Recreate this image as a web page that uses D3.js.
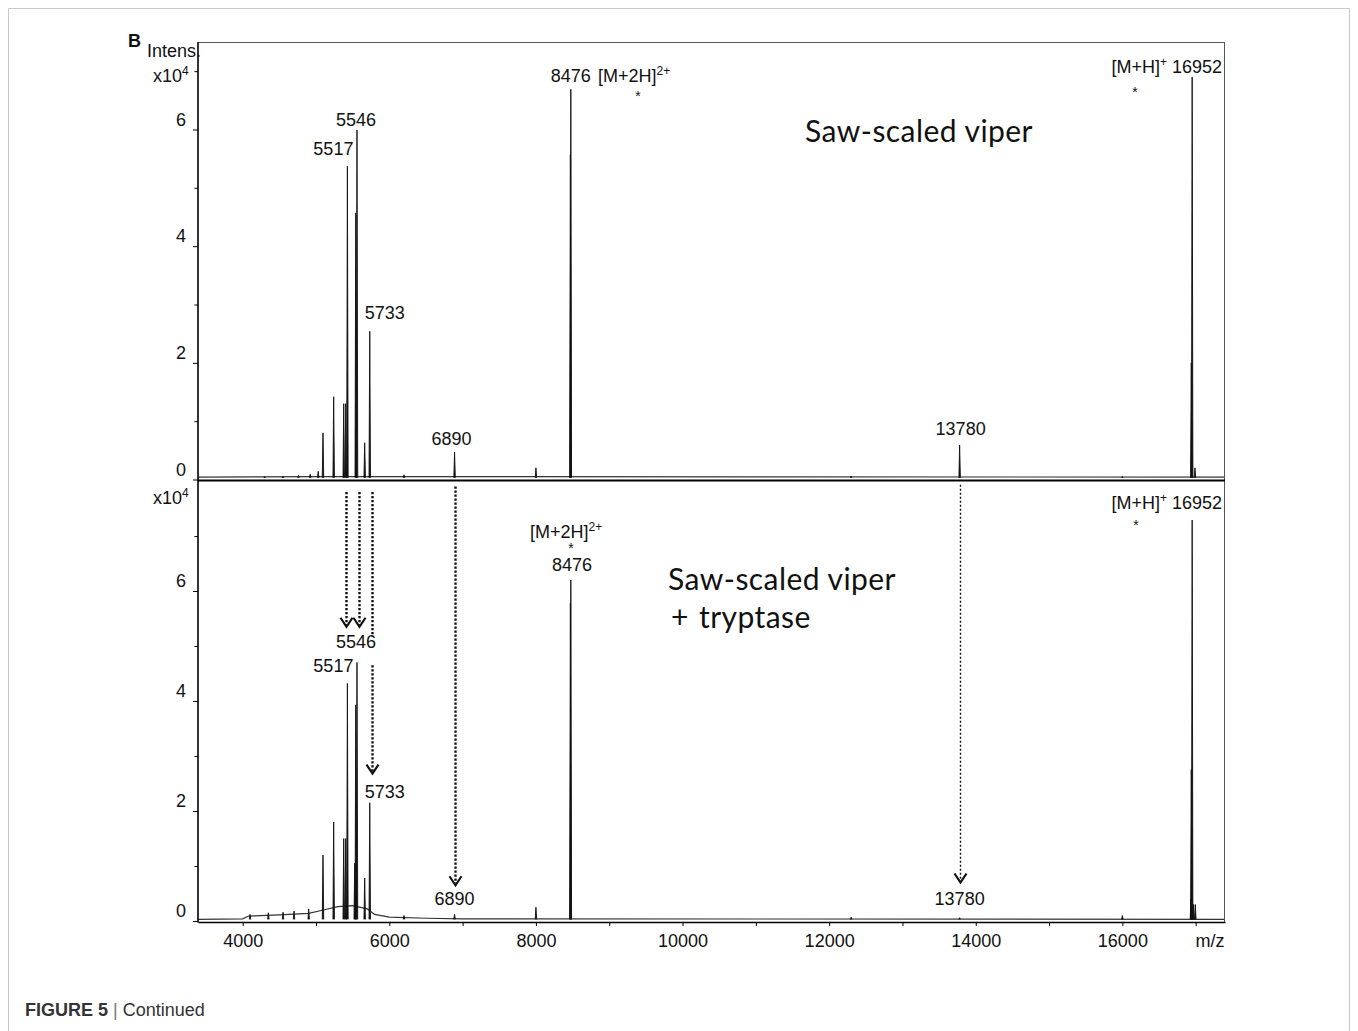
<!DOCTYPE html>
<html>
<head>
<meta charset="utf-8">
<script src="https://cdn.jsdelivr.net/npm/d3@7"></script>
<style>
body { margin: 0; background: #fff; }
text { font-family: "Liberation Sans", Arial, sans-serif; fill: #111; }
.viper { font-family: Lato, "Open Sans", sans-serif; font-size: 30px; letter-spacing: 0.45px; }
</style>
</head>
<body>
<svg width="1358" height="1031"></svg>
<script>
// axis ticks
let xTicks = [4000, 6000, 8000, 10000, 12000, 14000, 16000];
let xMinorTicks = [5000, 7000, 9000, 11000, 13000, 15000, 17000];
let yTicks = [0, 2, 4, 6];
let yMinorTicks = [1, 3, 5, 7];

// peaks: [m/z, intensity x10^4]
let viperPeaks = [
    [4300, 0.05], [4550, 0.06], [4760, 0.07], [4920, 0.09], [5030, 0.14],
    [5095, 0.80], [5241, 1.42], [5378, 1.30], [5405, 1.30], [5428, 5.37],
    [5542, 4.57], [5559, 5.99], [5664, 0.63], [5733, 2.54], [6200, 0.08],
    [6890, 0.47], [8000, 0.20], [8470, 5.57], [8476, 6.69], [12300, 0.06],
    [13780, 0.59], [16000, 0.05], [16940, 2.0], [16952, 6.90], [16990, 0.20]
];
let viperBase = [[3390, 0.04], [5000, 0.05], [5800, 0.05], [17400, 0.04]];

let trypPeaks = [
    [4100, 0.12], [4350, 0.15], [4550, 0.16], [4700, 0.18], [4900, 0.22],
    [5095, 1.20], [5241, 1.80], [5378, 1.50], [5405, 1.50], [5428, 4.32],
    [5528, 1.05], [5542, 3.93], [5559, 4.70], [5664, 0.78], [5733, 2.15],
    [6200, 0.10], [6890, 0.12], [8000, 0.25], [8470, 5.78], [8476, 6.20],
    [12300, 0.07], [13780, 0.06], [16000, 0.10], [16935, 0.40], [16940, 2.75],
    [16952, 7.29], [16970, 0.30], [16995, 0.30]
];
let trypBase = [
    [3390, 0.03], [4000, 0.04], [4080, 0.09], [4500, 0.11], [4900, 0.14],
    [5100, 0.20], [5300, 0.26], [5500, 0.28], [5700, 0.22], [5800, 0.12],
    [6000, 0.07], [6500, 0.05], [7000, 0.04], [17400, 0.03]
];

// dotted arrows in the lower panel: m/z and intensity range
let arrows = [
    {mz: 5415, from: 7.8, to: 5.35, head: true},
    {mz: 5582, from: 7.8, to: 5.35, head: true},
    {mz: 5760, from: 7.8, to: 5.17, head: false},
    {mz: 5760, from: 4.65, to: 2.68, head: true},
    {mz: 6900, from: 7.9, to: 0.65, head: true},
    {mz: 13790, from: 7.93, to: 0.7, head: true}
];

let width = 1358;
let height = 1031;

let svg = d3.select('svg')
    .attr('width', width)
    .attr('height', height);

let left = 198, right = 1225;
let x = d3.scaleLinear().domain([3390, 17400]).range([left, right]);
let yTop = d3.scaleLinear().domain([0, 7.5]).range([479.5, 42]);
let yBot = d3.scaleLinear().domain([0, 8]).range([921, 481]);

// outer figure frame
svg.append('path')
    .attr('d', 'M8.5,1031 V8.5 H1349.5 V1031')
    .attr('fill', 'none')
    .attr('stroke', '#c8c8c8')
    .attr('stroke-width', 1);

svg.append('clipPath').attr('id', 'plot')
    .append('rect')
    .attr('x', left).attr('y', 42)
    .attr('width', right - left).attr('height', 880);

function drawSpectrum(y, base, peaks) {
    let line = d3.line().x(d => x(d[0])).y(d => y(d[1]));
    let g = svg.append('g').attr('clip-path', 'url(#plot)');
    g.append('path')
        .attr('d', line(base))
        .attr('fill', 'none')
        .attr('stroke', '#333')
        .attr('stroke-width', 1.2);
    g.selectAll('path.peak')
        .data(peaks)
        .enter()
        .append('path')
        .attr('class', 'peak')
        .attr('d', d => line([[d[0] - 10, 0.03], [d[0], d[1]], [d[0] + 10, 0.03]]))
        .attr('fill', '#111')
        .attr('stroke', '#111')
        .attr('stroke-width', 0.9)
        .attr('stroke-linejoin', 'miter');
}

drawSpectrum(yTop, viperBase, viperPeaks);
drawSpectrum(yBot, trypBase, trypPeaks);

// plot frame
svg.append('line')
    .attr('x1', left).attr('x2', right).attr('y1', 42.5).attr('y2', 42.5)
    .attr('stroke', '#555').attr('stroke-width', 1);
svg.append('line')
    .attr('x1', right - 0.5).attr('x2', right - 0.5).attr('y1', 42).attr('y2', 922)
    .attr('stroke', '#555').attr('stroke-width', 1);
svg.append('line')
    .attr('x1', left).attr('x2', right).attr('y1', 480.5).attr('y2', 480.5)
    .attr('stroke', '#000').attr('stroke-width', 2.2);

function yAxis(y, top, bottom) {
    let g = svg.append('g').attr('transform', 'translate(' + left + ',0)');
    g.call(d3.axisLeft(y).tickValues(yMinorTicks.filter(d => y(d) > top)).tickSize(3.5).tickFormat(''))
        .select('.domain').remove();
    let major = svg.append('g').attr('transform', 'translate(' + left + ',0)')
        .call(d3.axisLeft(y).tickValues(yTicks).tickSize(5).tickPadding(7).tickSizeOuter(0));
    major.select('.domain').remove();
    major.selectAll('text')
        .attr('dy', -4.5)
        .style('font-size', '18px');
    svg.selectAll('.tick line').attr('stroke', '#000');
    svg.append('line')
        .attr('x1', left).attr('x2', left).attr('y1', top).attr('y2', bottom)
        .attr('stroke', '#000').attr('stroke-width', 1.6);
}
yAxis(yTop, 42, 481);
yAxis(yBot, 481, 922.5);

// x axis
let xg = svg.append('g').attr('transform', 'translate(0,922)');
xg.call(d3.axisBottom(x).tickValues(xMinorTicks).tickSize(4).tickFormat(''))
    .select('.domain').remove();
let xMajor = svg.append('g').attr('transform', 'translate(0,922)')
    .call(d3.axisBottom(x).tickValues(xTicks).tickSize(4).tickPadding(8).tickSizeOuter(0)
        .tickFormat(d3.format('d')));
xMajor.select('.domain').attr('stroke-width', 1.6);
xMajor.selectAll('text').style('font-size', '18px');
svg.append('text')
    .attr('x', 1210).attr('y', 947)
    .attr('text-anchor', 'middle')
    .style('font-size', '18px')
    .text('m/z');

// axis title
svg.append('text').attr('x', 128).attr('y', 47)
    .style('font-size', '18px').style('font-weight', 'bold').text('B');
svg.append('text').attr('x', 147).attr('y', 57)
    .style('font-size', '18px').text('Intens.');

function power(xp, yp) {
    let t = svg.append('text').attr('x', xp).attr('y', yp).style('font-size', '18px');
    t.append('tspan').text('x10');
    t.append('tspan').attr('dy', -7).style('font-size', '12px').text('4');
}
power(153, 82);
power(153, 504);

// peak labels
function label(xp, yp, txt, anchor) {
    return svg.append('text')
        .attr('x', xp).attr('y', yp)
        .attr('text-anchor', anchor || 'middle')
        .style('font-size', '18px')
        .text(txt);
}
function star(xp, yp) {
    svg.append('text').attr('x', xp).attr('y', yp)
        .attr('text-anchor', 'middle')
        .style('font-size', '14px')
        .text('*');
}
function ion(xp, yp, charge, anchor) {
    let t = svg.append('text').attr('x', xp).attr('y', yp)
        .attr('text-anchor', anchor || 'start')
        .style('font-size', '18px');
    t.append('tspan').text(charge == '+' ? '[M+H]' : '[M+2H]');
    t.append('tspan').attr('dy', -7).style('font-size', '12px').text(charge);
    return t;
}

// upper panel
label(x(5559) - 1, yTop(5.99) - 4, '5546');
label(x(5428) - 14, yTop(5.37) - 11, '5517');
label(x(5733) + 15, yTop(2.54) - 12, '5733');
label(x(6890) - 3, yTop(0.47) - 7, '6890');
label(x(13780) + 1, yTop(0.59) - 10, '13780');
label(x(8476), 81.5, '8476');
ion(598, 81.5, '2+');
star(638, 101);
let t1 = svg.append('text').attr('x', 1222).attr('y', 73)
    .attr('text-anchor', 'end').style('font-size', '18px');
t1.append('tspan').text('[M+H]');
t1.append('tspan').attr('dy', -7).style('font-size', '12px').text('+');
t1.append('tspan').attr('dy', 7).text(' 16952');
star(1135, 97);
svg.append('text').attr('class', 'viper')
    .attr('x', 805).attr('y', 142)
    .text('Saw-scaled viper');

// lower panel
label(x(5559) - 1, 648, '5546');
label(x(5428) - 14, 672, '5517');
label(x(5733) + 15, 798, '5733');
label(x(6890), 905, '6890');
label(x(13780), 905, '13780');
ion(530, 538, '2+');
star(571, 553);
label(572, 571, '8476');
let t2 = svg.append('text').attr('x', 1222).attr('y', 509)
    .attr('text-anchor', 'end').style('font-size', '18px');
t2.append('tspan').text('[M+H]');
t2.append('tspan').attr('dy', -7).style('font-size', '12px').text('+');
t2.append('tspan').attr('dy', 7).text(' 16952');
star(1136, 530);
svg.append('text').attr('class', 'viper')
    .attr('x', 668).attr('y', 590)
    .text('Saw-scaled viper');
svg.append('text').attr('class', 'viper')
    .attr('x', 671).attr('y', 628)
    .style('word-spacing', '2px')
    .text('+ tryptase');

// dotted arrows
arrows.forEach(function (a) {
    let ax = Math.round(x(a.mz)) + 0.5;
    let thin = a.mz > 10000;
    svg.append('line')
        .attr('x1', ax).attr('x2', ax)
        .attr('y1', yBot(a.from)).attr('y2', yBot(a.to) - (a.head ? 2 : 0))
        .attr('stroke', '#111')
        .attr('stroke-width', thin ? 1.4 : 2.4)
        .attr('stroke-dasharray', thin ? '2,2' : '2.2,1.8');
    if (a.head) {
        let ty = yBot(a.to);
        svg.append('path')
            .attr('d', 'M' + (ax - 6) + ',' + (ty - 9) + ' L' + ax + ',' + ty + ' L' + (ax + 6) + ',' + (ty - 9))
            .attr('fill', 'none')
            .attr('stroke', '#111')
            .attr('stroke-width', 2.2);
    }
});

// caption
let cap = svg.append('text').attr('x', 25).attr('y', 1016).style('font-size', '18px');
cap.append('tspan').style('font-weight', 'bold').style('fill', '#333').text('FIGURE 5');
cap.append('tspan').style('fill', '#777').text(' | ');
cap.append('tspan').style('fill', '#333').text('Continued');
</script>
</body>
</html>
